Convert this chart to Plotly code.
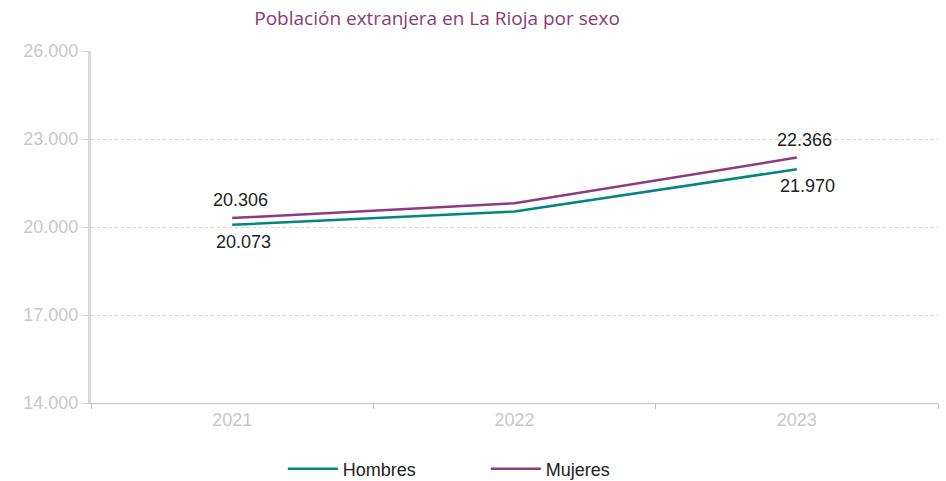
import plotly.graph_objects as go

years = ["2021", "2022", "2023"]
hombres = [20073, 20530, 21970]
mujeres = [20306, 20810, 22366]
hombres_labels = ["20.073", "", "21.970"]
mujeres_labels = ["20.306", "", "22.366"]
y_ticks = [14000, 17000, 20000, 23000, 26000]
y_tick_labels = ["14.000", "17.000", "20.000", "23.000", "26.000"]

fig = go.Figure()
fig.add_trace(go.Scatter(
    x=years, y=hombres, name="Hombres", mode="lines",
    line=dict(color="#00857F", width=2.5),
))
fig.add_trace(go.Scatter(
    x=years, y=mujeres, name="Mujeres", mode="lines",
    line=dict(color="#8E3A80", width=2.5),
))

label_font = dict(family="Liberation Sans, Arial", size=18, color="#222222")
for i, (yv, t) in enumerate(zip(mujeres, mujeres_labels)):
    if t:
        fig.add_annotation(x=i, y=yv, xref="x", yref="y", text=t, showarrow=False,
                           xshift=8, yshift=18, font=label_font)
for i, (yv, t) in enumerate(zip(hombres, hombres_labels)):
    if t:
        fig.add_annotation(x=i, y=yv, xref="x", yref="y", text=t, showarrow=False,
                           xshift=11, yshift=-17, font=label_font)

fig.update_layout(
    width=946, height=481,
    margin=dict(l=91, r=8, t=51, b=78, autoexpand=False),
    paper_bgcolor="white", plot_bgcolor="white",
    title=dict(text="Población extranjera en La Rioja por sexo",
               x=0.462, xanchor="center", y=0.962, yanchor="middle",
               font=dict(family="Open Sans, Lato", size=19, color="#8B3A7A")),
    showlegend=True,
    legend=dict(orientation="h", x=0.2265, xanchor="left", xref="paper",
                y=0.025, yanchor="middle", yref="container",
                font=dict(family="Liberation Sans, Arial", size=18, color="#222222"),
                entrywidth=138, entrywidthmode="pixels", itemwidth=50),
    xaxis=dict(type="category", range=[-0.5, 2.5], tickson="boundaries", ticks="outside",
               ticklen=5, automargin=False,
               tickcolor="#bfbfbf", showline=True, linecolor="#bfbfbf", linewidth=1,
               showgrid=False, zeroline=False,
               tickfont=dict(family="Liberation Sans, Arial", size=18, color="#c8c8c8")),
    yaxis=dict(range=[14000, 26000], tickvals=y_ticks, ticktext=y_tick_labels,
               ticks="outside", ticklen=6, tickcolor="#d0d0d0", automargin=False,
               showline=True, linecolor="#d9d9d9", linewidth=3,
               showgrid=True, gridcolor="#d4d4d4", griddash="dot", gridwidth=1,
               zeroline=False,
               tickfont=dict(family="Liberation Sans, Arial", size=18, color="#c8c8c8")),
)

fig.write_html("out.html", config={"displayModeBar": False},
               post_script="document.body.style.margin='0';document.body.style.overflow='hidden';")
